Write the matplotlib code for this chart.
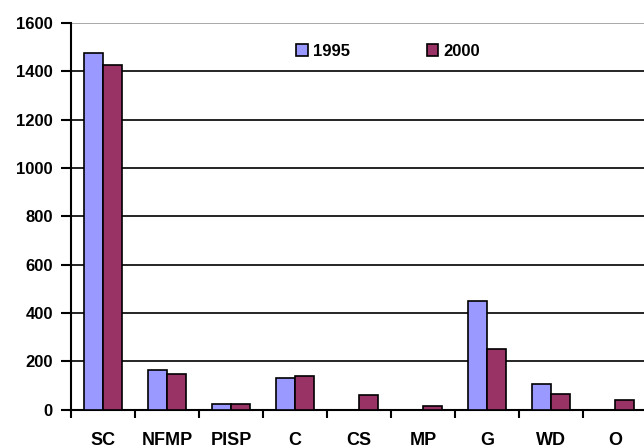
import matplotlib
matplotlib.use("Agg")
import matplotlib.pyplot as plt
import numpy as np

categories = ["SC", "NFMP", "PISP", "C", "CS", "MP", "G", "WD", "O"]
v1995 = [1477, 164, 24, 131, 0, 0, 449, 108, 0]
v2000 = [1425, 148, 24, 140, 60, 17, 250, 66, 39]
series_labels = ["1995", "2000"]
yticks = [0, 200, 400, 600, 800, 1000, 1200, 1400, 1600]

plt.rcParams['font.family'] = ['Liberation Sans', 'DejaVu Sans']

fig = plt.figure(figsize=(6.44, 4.48), dpi=100)
ax = fig.add_axes([0.110, 0.0855, 0.895, 0.863])

x = np.arange(len(categories))
w = 0.3
ax.bar(x - w/2, v1995, w, color="#9999FF", edgecolor="black", linewidth=1.2, label=series_labels[0], zorder=3)
ax.bar(x + w/2, v2000, w, color="#993366", edgecolor="black", linewidth=1.2, label=series_labels[1], zorder=3)

ax.set_xlim(-0.5, len(categories) - 0.5)
ax.set_ylim(0, 1600)
ax.set_yticks(yticks)
ax.set_yticklabels([str(t) for t in yticks], fontweight="bold", fontsize=12)
for t in yticks[1:]:
    ax.axhline(t, color="black" if t < 1600 else "#999999", linewidth=1.2, zorder=1)

ax.set_xticks(x)
ax.set_xticklabels(categories, fontweight="bold", fontsize=13)
ax.tick_params(axis="x", length=0, pad=16)
ax.set_xticks(np.arange(len(categories) + 1) - 0.5, minor=True)
ax.tick_params(axis="x", which="minor", length=6, width=1.5, direction="out")
ax.tick_params(axis="y", length=7, width=1.5, direction="out", pad=6)

for s in ["top", "right"]:
    ax.spines[s].set_visible(False)
ax.spines["left"].set_linewidth(1.5)
ax.spines["bottom"].set_linewidth(1.5)

leg = ax.legend(loc="upper left", bbox_to_anchor=(0.365, 0.985), ncol=2, frameon=False,
                prop={"weight": "bold", "size": 12}, handlelength=0.7, handleheight=0.7,
                columnspacing=4.6, handletextpad=0.3)

fig.savefig("out.png", dpi=100)
